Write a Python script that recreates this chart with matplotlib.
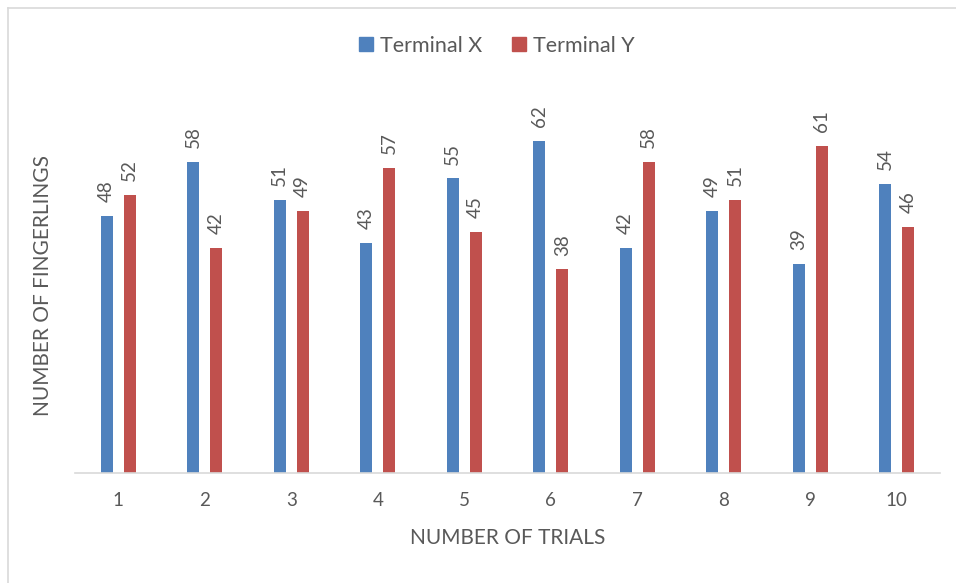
import matplotlib
matplotlib.use("Agg")
import matplotlib.pyplot as plt
from matplotlib.lines import Line2D
import numpy as np

trials = ["1", "2", "3", "4", "5", "6", "7", "8", "9", "10"]
terminal_x = [48, 58, 51, 43, 55, 62, 42, 49, 39, 54]
terminal_y = [52, 42, 49, 57, 45, 38, 58, 51, 61, 46]

BLUE = "#4F81BD"
RED = "#C0504D"
GRAY_TEXT = "#595959"
GRAY_LINE = "#D9D9D9"

plt.rcParams["font.family"] = ["Lato", "DejaVu Sans"]

W, H = 956, 583
fig = plt.figure(figsize=(W / 100, H / 100), dpi=100)
ax = fig.add_axes([75 / W, (H - 473) / H, (940 - 75) / W, (473 - 87.4) / H])

x = np.arange(1, len(trials) + 1)
width = 0.14
offset = 0.133
bx = ax.bar(x - offset, terminal_x, width, color=BLUE, label="Terminal X")
by = ax.bar(x + offset, terminal_y, width, color=RED, label="Terminal Y")

for bars in (bx, by):
    for rect in bars:
        ax.annotate(f"{rect.get_height():.0f}",
                    (rect.get_x() + rect.get_width() / 2, rect.get_height()),
                    xytext=(0, 10), textcoords="offset points",
                    rotation=90, ha="center", va="bottom",
                    fontsize=13.5, color=GRAY_TEXT)

ax.set_xlim(0.5, 10.5)
ax.set_ylim(0, 72)
ax.set_xticks(x)
ax.set_xticklabels(trials, fontsize=13.5, color=GRAY_TEXT)
ax.tick_params(axis="x", length=0, pad=14)
ax.set_yticks([])
for side in ("top", "right", "left"):
    ax.spines[side].set_visible(False)
ax.spines["bottom"].set_color(GRAY_LINE)
ax.spines["bottom"].set_linewidth(1.2)

fig.text(508 / W, 1 - 538 / H, "NUMBER OF TRIALS", ha="center", va="center",
         fontsize=15, color=GRAY_TEXT)
fig.text(43 / W, 1 - 285 / H, "NUMBER OF FINGERLINGS", ha="center", va="center",
         rotation=90, fontsize=15, color=GRAY_TEXT)

handles = [Line2D([], [], marker="s", linestyle="none", markersize=10,
                  markerfacecolor=c, markeredgecolor=c) for c in (BLUE, RED)]
fig.legend(handles, ["Terminal X", "Terminal Y"], loc="center",
           bbox_to_anchor=(496 / W, 1 - 46 / H), ncol=2, frameon=False,
           fontsize=15.5, labelcolor=GRAY_TEXT, handlelength=0.8,
           handletextpad=0.25, columnspacing=1.3)

# outer chart border (top and left visible)
fig.add_artist(Line2D([8 / W, 8 / W], [0, 1 - 8 / H], transform=fig.transFigure,
                      color=GRAY_LINE, linewidth=1.2))
fig.add_artist(Line2D([8 / W, 1], [1 - 8 / H, 1 - 8 / H], transform=fig.transFigure,
                      color=GRAY_LINE, linewidth=1.2))

fig.savefig("out.png", dpi=100)
